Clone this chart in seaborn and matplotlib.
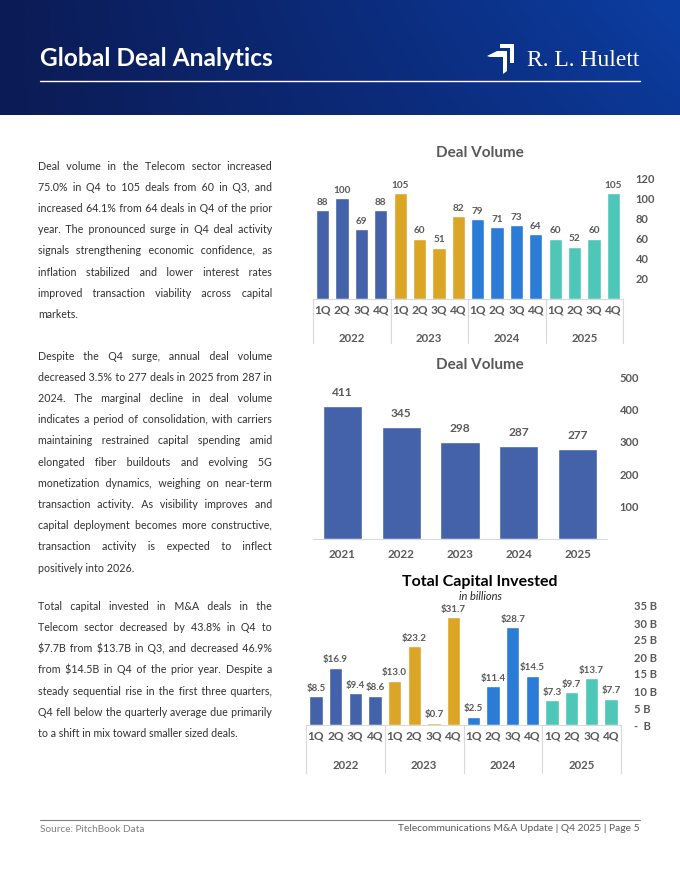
import numpy as np
import pandas as pd
import matplotlib
matplotlib.use("Agg")
import matplotlib.pyplot as plt
import matplotlib.transforms as mtransforms
from matplotlib.colors import LinearSegmentedColormap
from matplotlib.patches import Polygon
import seaborn as sns

# ---- data ----
quarters = ["1Q", "2Q", "3Q", "4Q"]
years = ["2022", "2023", "2024", "2025"]
deals_2022 = [88, 100, 69, 88]
deals_2023 = [105, 60, 51, 82]
deals_2024 = [79, 71, 73, 64]
deals_2025 = [60, 52, 60, 105]

annual_years = ["2021", "2022", "2023", "2024", "2025"]
annual_deals = [411, 345, 298, 287, 277]

capital_2022 = [8.5, 16.9, 9.4, 8.6]
capital_2023 = [13.0, 23.2, 0.7, 31.7]
capital_2024 = [2.5, 11.4, 28.7, 14.5]
capital_2025 = [7.3, 9.7, 13.7, 7.7]

year_colors = ["#4462aa", "#dba526", "#2b7cd6", "#4ec7b8"]

para1 = [
    "Deal volume in the Telecom sector increased",
    "75.0% in Q4 to 105 deals from 60 in Q3, and",
    "increased 64.1% from 64 deals in Q4 of the prior",
    "year. The pronounced surge in Q4 deal activity",
    "signals strengthening economic confidence, as",
    "inflation stabilized and lower interest rates",
    "improved transaction viability across capital",
    "markets.",
]
para2 = [
    "Despite the Q4 surge, annual deal volume",
    "decreased 3.5% to 277 deals in 2025 from 287 in",
    "2024. The marginal decline in deal volume",
    "indicates a period of consolidation, with carriers",
    "maintaining restrained capital spending amid",
    "elongated fiber buildouts and evolving 5G",
    "monetization dynamics, weighing on near-term",
    "transaction activity. As visibility improves and",
    "capital deployment becomes more constructive,",
    "transaction activity is expected to inflect",
    "positively into 2026.",
]
para3 = [
    "Total capital invested in M&A deals in the",
    "Telecom sector decreased by 43.8% in Q4 to",
    "$7.7B from $13.7B in Q3, and decreased 46.9%",
    "from $14.5B in Q4 of the prior year. Despite a",
    "steady sequential rise in the first three quarters,",
    "Q4 fell below the quarterly average due primarily",
    "to a shift in mix toward smaller sized deals.",
]

sns.set_style("white")
plt.rcParams["font.family"] = ["Lato", "DejaVu Sans"]

W, H = 680, 880
GRAY = "#595959"
fig = plt.figure(figsize=(W / 100, H / 100), dpi=100)
renderer = fig.canvas.get_renderer()


def fx(x):
    return x / W


def fy(y):
    return 1 - y / H


def ax_box(left, top, right, bottom):
    return [fx(left), fy(bottom), (right - left) / W, (bottom - top) / H]


def text_width(s, size, **kw):
    t = fig.text(0, 0, s, fontsize=size, parse_math=False, **kw)
    w = t.get_window_extent(renderer).width
    t.remove()
    return w


def fit_size(s, target, base=10, **kw):
    return base * target / text_width(s, base, **kw)


# ---- header ----
hdr = fig.add_axes([0, fy(115), 1, 115 / H])
grad = np.linspace(0, 1, 256)[None, :] * np.ones((40, 1))
grad = grad * 0.85 + np.linspace(0.15, 0, 40)[:, None] * grad
cmap = LinearSegmentedColormap.from_list("hdr", ["#0b1b55", "#0b2b7a", "#0c3ea2"])
hdr.imshow(grad, aspect="auto", cmap=cmap, extent=[0, 1, 0, 1], vmin=0, vmax=1)
hdr.axis("off")

title_txt = "Global Deal Analytics"
fig.text(fx(40), fy(58), title_txt, color="white",
         fontsize=fit_size(title_txt, 233, fontweight="bold"),
         fontweight="bold", va="center", ha="left")
fig.add_artist(plt.Line2D([fx(40), fx(640)], [fy(81), fy(81)], color="white", lw=1,
                          transform=fig.transFigure))
icon_top = [(500, 44), (514, 44), (514, 63), (510, 63), (510, 48), (500, 48)]
icon_low = [(487, 56), (497, 51), (507, 51), (507, 71), (503, 74), (503, 57), (490, 57)]
for pts in (icon_top, icon_low):
    fig.add_artist(Polygon([(fx(x), fy(y)) for x, y in pts], closed=True, color="white",
                           lw=0, transform=fig.transFigure))
logo_txt = "R. L. Hulett"
fig.text(fx(527), fy(61), logo_txt, color="white",
         fontsize=fit_size(logo_txt, 113, family="Liberation Serif"),
         family="Liberation Serif", va="center", ha="left")


# ---- quarterly chart helper ----
def quarter_frame(series):
    rows = []
    for y, vals in zip(years, series):
        for q, v in zip(quarters, vals):
            rows.append({"period": f"{y} {q}", "year": y, "value": v})
    return pd.DataFrame(rows)


def style_axis(ax, xsize):
    sns.despine(ax=ax, left=True, top=True, right=True)
    ax.spines["bottom"].set_color("#d9d9d9")
    ax.yaxis.tick_right()
    ax.tick_params(axis="y", length=0, pad=9, labelsize=8, labelcolor=GRAY)
    ax.tick_params(axis="x", length=0, labelsize=xsize, labelcolor=GRAY)
    ax.set_xlabel("")
    ax.set_ylabel("")
    for t in ax.get_yticklabels() + ax.get_xticklabels():
        t.set_fontweight("bold")


def quarter_chart(ax, df, fmt, label_size, sep_depth, year_y):
    sns.barplot(data=df, x="period", y="value", hue="year",
                palette=dict(zip(years, year_colors)), dodge=False, width=0.68,
                saturation=1, legend=False, ax=ax)
    for c in ax.containers:
        ax.bar_label(c, labels=[fmt(v) for v in c.datavalues], padding=2.5,
                     fontsize=label_size, fontweight="bold", color=GRAY)
    n = len(df)
    ax.set_xlim(-0.5, n - 0.5)
    ax.set_xticks(range(n))
    ax.set_xticklabels(quarters * len(years))
    trans = mtransforms.blended_transform_factory(ax.transData, ax.transAxes)
    nq = len(quarters)
    for i in range(len(years) + 1):
        b = i * nq - 0.5
        ax.plot([b, b], [0, -sep_depth], transform=trans, color="#d9d9d9", lw=0.8,
                clip_on=False)
    for i, y in enumerate(years):
        ax.text(i * nq + (nq - 1) / 2, year_y, y, transform=trans, ha="center",
                va="center", fontsize=8.2, fontweight="bold", color=GRAY)


# ---- chart 1: quarterly deal volume ----
ax1 = fig.add_axes(ax_box(313, 178, 623, 299))
quarter_chart(ax1, quarter_frame([deals_2022, deals_2023, deals_2024, deals_2025]),
              lambda v: f"{v:.0f}", 7.2, 44 / 121, -39 / 121)
ax1.set_ylim(0, 120)
ax1.set_yticks(range(20, 121, 20))
ax1.tick_params(axis="x", pad=4)
style_axis(ax1, 8.6)
fig.text(fx(480), fy(153), "Deal Volume", ha="center", va="center", fontsize=11,
         fontweight="bold", color=GRAY)

# ---- chart 2: annual deal volume ----
ax2 = fig.add_axes(ax_box(313, 377, 607, 539))
annual_df = pd.DataFrame({"year": annual_years, "deals": annual_deals})
sns.barplot(data=annual_df, x="year", y="deals", color=year_colors[0], saturation=1,
            width=0.67, ax=ax2)
for c in ax2.containers:
    ax2.bar_label(c, fmt="%.0f", padding=6, fontsize=8.6, fontweight="bold", color=GRAY)
ax2.set_xlim(-0.5, len(annual_years) - 0.5)
ax2.set_ylim(0, 500)
ax2.set_yticks(range(100, 501, 100))
ax2.tick_params(axis="x", pad=7)
style_axis(ax2, 8.4)
fig.text(fx(480), fy(365), "Deal Volume", ha="center", va="center", fontsize=11,
         fontweight="bold", color=GRAY)

# ---- chart 3: total capital invested ----
ax3 = fig.add_axes(ax_box(306, 606, 621, 725))
quarter_chart(ax3, quarter_frame([capital_2022, capital_2023, capital_2024, capital_2025]),
              lambda v: f"${v:.1f}", 7, 48 / 119, -40 / 119)
ax3.set_ylim(0, 35)
ticks3 = list(range(0, 36, 5))
ax3.set_yticks(ticks3)
ax3.set_yticklabels([f"{t} B" if t else "-  B" for t in ticks3])
ax3.tick_params(axis="x", pad=4)
style_axis(ax3, 8.6)
fig.text(fx(480), fy(582), "Total Capital Invested", ha="center", va="center",
         fontsize=11.5, fontweight="bold", color="black")
fig.text(fx(480), fy(596), "in billions", ha="center", va="center", fontsize=8,
         style="italic", color="#262626")

# ---- body text, justified by padding the gaps with spaces ----
LEFT, RIGHT = 38, 272
body_size = 8
widest = max(text_width(line, body_size) for p in (para1, para2, para3) for line in p[:-1])
body_size *= (RIGHT - LEFT) * 0.99 / widest


def unit_width(ch):
    return (text_width("a" + ch * 10 + "a", body_size) - text_width("aa", body_size)) / 10


space_w = unit_width(" ")
HAIR = "\u200a"
hair_w = unit_width(HAIR)
if not 0 < hair_w < space_w:
    HAIR, hair_w = " ", space_w


def justify(line):
    words = line.split(" ")
    if len(words) < 2:
        return line
    widths = [text_width(w, body_size) for w in words]
    ideal = (RIGHT - LEFT - sum(widths)) / (len(words) - 1)
    out, want, have = words[0], 0.0, 0.0
    for w in words[1:]:
        want += ideal
        need = want - have
        k = max(1, int(need // space_w))
        m = max(0, round((need - k * space_w) / hair_w))
        have += k * space_w + m * hair_w
        out += " " * k + HAIR * m + w
    return out


def draw_paragraph(lines, y0, step):
    for i, line in enumerate(lines):
        s = line if i == len(lines) - 1 else justify(line)
        fig.text(fx(LEFT), fy(y0 + i * step + 3.5), s, fontsize=body_size,
                 color="#303030", va="baseline", ha="left", parse_math=False)


draw_paragraph(para1, 166, 21.2)
draw_paragraph(para2, 356, 21.2)
draw_paragraph(para3, 606, 21.3)

# ---- footer ----
fig.add_artist(plt.Line2D([fx(40), fx(640)], [fy(820), fy(820)], color="#7f7f7f", lw=0.8,
                          transform=fig.transFigure))
src_txt = "Source: PitchBook Data"
fig.text(fx(40), fy(829), src_txt, fontsize=fit_size(src_txt, 105), color="#7f7f7f",
         va="center", ha="left")
page_txt = "Telecommunications M&A Update | Q4 2025 | Page 5"
fig.text(fx(640), fy(828), page_txt, fontsize=fit_size(page_txt, 243),
         color=GRAY, va="center", ha="right")

fig.savefig("out.png", dpi=100)
